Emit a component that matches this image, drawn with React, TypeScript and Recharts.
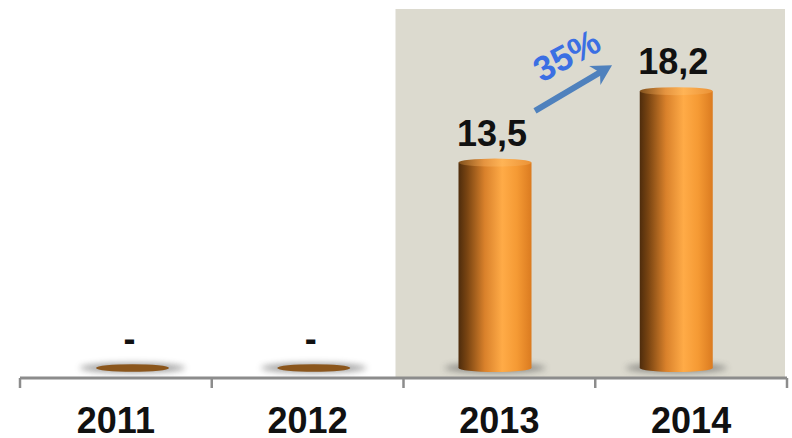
import { Bar, BarChart, LabelList, ReferenceArea, ReferenceLine, XAxis, YAxis } from "recharts";

// values (billions, comma as decimal mark)
const YEARS = ["2011", "2012", "2013", "2014"];
const VALUES = [0, 0, 13.5, 18.2];
const GROWTH = "35%";
const GROWTH_FROM = 16.9;
const GROWTH_TO = 19.9;

const data = YEARS.map((year, i) => ({ year, value: VALUES[i] }));

const FONT = '"Liberation Sans", Arial, sans-serif';
const AXIS = "#8c8c8c";
const PANEL = "#dcdacf";

function Cylinder(props: any) {
  const { x, y, width, height, value } = props;
  const cx = x + width / 2;
  const rx = width / 2;
  if (!value) {
    return (
      <g>
        <ellipse cx={cx} cy={y} rx={rx + 16} ry={5} fill="#555" opacity={0.55} filter="url(#blur)" />
        <ellipse cx={cx} cy={y} rx={rx} ry={3.8} fill="#8b561c" />
      </g>
    );
  }
  return (
    <g>
      <ellipse cx={cx} cy={y + height} rx={rx + 14} ry={5} fill="#444" opacity={0.5} filter="url(#blur)" />
      <rect x={x} y={y} width={width} height={height} fill="url(#cylBody)" />
      <ellipse cx={cx} cy={y + height} rx={rx} ry={4} fill="url(#cylBody)" />
      <ellipse cx={cx} cy={y} rx={rx} ry={4} fill="url(#cylTop)" />
    </g>
  );
}

function ValueLabel(props: any) {
  const { x, y, width, value } = props;
  return (
    <text x={x + width / 2 - 3} y={y - 17} textAnchor="middle" fontFamily={FONT} fontSize={36} fontWeight="bold" fill="#111">
      {value === 0 ? "-" : String(value).replace(".", ",")}
    </text>
  );
}

function YearTick(props: any) {
  const { x, y, payload, index } = props;
  const half = payload?.offset ?? 96;
  return (
    <g>
      <line x1={x - half} x2={x - half} y1={y - 10} y2={y} stroke={AXIS} strokeWidth={2.5} />
      {index === YEARS.length - 1 && (
        <line x1={x + half} x2={x + half} y1={y - 10} y2={y} stroke={AXIS} strokeWidth={2.5} />
      )}
      <text x={x} y={y + 45} textAnchor="middle" fontFamily={FONT} fontSize={36} fontWeight="bold" fill="#111">
        {payload.value}
      </text>
    </g>
  );
}

function Panel(props: any) {
  const { x, y, width, height } = props;
  return <rect x={x - 8} y={y} width={width + 6} height={height} fill={PANEL} />;
}

function GrowthArrow(props: any) {
  const { x1, y1, x2, y2 } = props;
  const sx = x1 + 0.22 * (x2 - x1);
  const ex = x1 + 0.645 * (x2 - x1);
  const sy = y1;
  const ey = y2;
  const ang = Math.atan2(ey - sy, ex - sx);
  const dx = Math.cos(ang);
  const dy = Math.sin(ang);
  const L = 20;
  const W = 11;
  const bx = ex - L * dx;
  const by = ey - L * dy;
  const head = [
    [ex, ey],
    [bx - W * dy, by + W * dx],
    [ex - 0.7 * L * dx, ey - 0.7 * L * dy],
    [bx + W * dy, by - W * dx],
  ]
    .map((p) => p.join(","))
    .join(" ");
  const mx = (sx + ex) / 2 - 7;
  const my = (sy + ey) / 2 - 33;
  return (
    <g>
      <line x1={sx} y1={sy} x2={ex - 0.6 * L * dx} y2={ey - 0.6 * L * dy} stroke="#4f81bd" strokeWidth={6} />
      <polygon points={head} fill="#4f81bd" />
      <text
        transform={`translate(${mx},${my}) rotate(${(ang * 180) / Math.PI + 2})`}
        textAnchor="middle"
        dy="0.36em"
        fontFamily={FONT}
        fontSize={35}
        fontWeight="bold"
        fill="#3b6fe3"
      >
        {GROWTH}
      </text>
    </g>
  );
}

export default function App() {
  return (
    <div style={{ position: "absolute", left: 0, top: 0, width: 792, height: 438, background: "#fff" }}>
      <BarChart width={792} height={438} data={data} margin={{ top: 9, right: 5, left: 20, bottom: 0 }}>
        <defs>
          <linearGradient id="cylBody" x1="0" y1="0" x2="1" y2="0">
            <stop offset="0%" stopColor="#4e2c0c" />
            <stop offset="12%" stopColor="#7a4512" />
            <stop offset="36%" stopColor="#d9812b" />
            <stop offset="60%" stopColor="#ffab47" />
            <stop offset="80%" stopColor="#f59a34" />
            <stop offset="100%" stopColor="#db7b20" />
          </linearGradient>
          <linearGradient id="cylTop" x1="0" y1="0" x2="1" y2="0">
            <stop offset="0%" stopColor="#80501c" />
            <stop offset="35%" stopColor="#e59440" />
            <stop offset="60%" stopColor="#ffb456" />
            <stop offset="100%" stopColor="#eb9236" />
          </linearGradient>
          <filter id="blur" x="-30%" y="-200%" width="160%" height="500%">
            <feGaussianBlur stdDeviation={3} />
          </filter>
        </defs>
        <XAxis xAxisId="bars" dataKey="year" hide height={0} padding={{ left: 22, right: 20 }} />
        <XAxis
          xAxisId="labels"
          dataKey="year"
          interval={0}
          height={60}
          tickSize={10}
          tickMargin={0}
          tickLine={false}
          axisLine={{ stroke: AXIS, strokeWidth: 3 }}
          tick={<YearTick />}
        />
        <YAxis hide domain={[-0.66, 23.6]} allowDataOverflow />
        <ReferenceArea xAxisId="labels" x1="2013" x2="2014" shape={<Panel />} />
        <Bar xAxisId="bars" dataKey="value" barSize={73} shape={<Cylinder />} isAnimationActive={false}>
          <LabelList dataKey="value" content={<ValueLabel />} />
        </Bar>
        <ReferenceLine
          xAxisId="bars"
          segment={[
            { x: "2013", y: GROWTH_FROM },
            { x: "2014", y: GROWTH_TO },
          ]}
          shape={<GrowthArrow />}
        />
      </BarChart>
    </div>
  );
}
